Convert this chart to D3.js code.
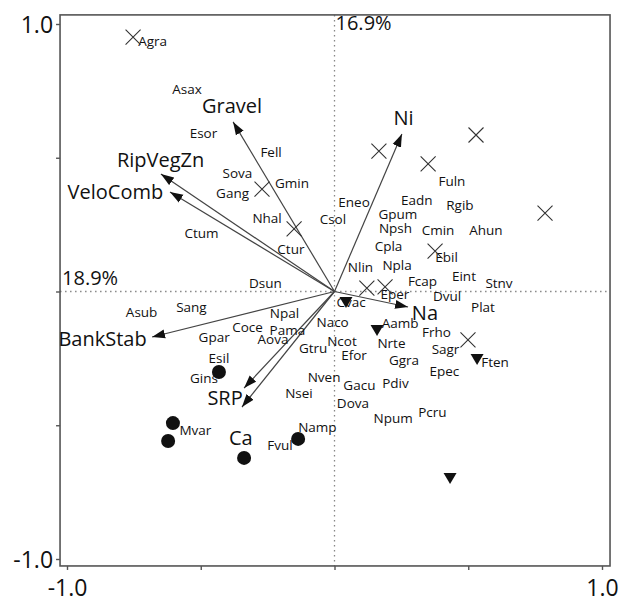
<!DOCTYPE html>
<html>
<head>
<meta charset="utf-8">
<script src="https://cdn.jsdelivr.net/npm/d3@7"></script>
<style>
  html, body { margin: 0; padding: 0; background: #fff; }
  svg { display: block; }
  text { font-family: "Open Sans", "DejaVu Sans", sans-serif; fill: #111; }
</style>
</head>
<body>
<svg id="chart" width="621" height="599"></svg>
<script>
// ---------- data ----------
const axisTicks = [-1, -0.5, 0, 0.5, 1];
const tickLabels = ["-1.0", "", "", "", "1.0"];
const axis1Label = "18.9%";
const axis2Label = "16.9%";

// environmental variables (arrow tips)
const envNames = ["Gravel", "RipVegZn", "VeloComb", "BankStab", "SRP", "Ca", "Ni", "Na"];
const envX = [-0.379, -0.649, -0.615, -0.682, -0.338, -0.346, 0.252, 0.275];
const envY = [0.634, 0.439, 0.372, -0.170, -0.361, -0.432, 0.589, -0.058];
const envLabelX = [-0.383, -0.650, -0.819, -0.867, -0.409, -0.350, 0.258, 0.338];
const envLabelY = [0.697, 0.492, 0.372, -0.174, -0.398, -0.544, 0.649, -0.077];

// species labels
const speciesNames = ["Agra","Asax","Esor","Fell","Sova","Gmin","Gang","Nhal","Ctum","Ctur","Dsun",
  "Fuln","Eneo","Eadn","Rgib","Csol","Gpum","Npsh","Cmin","Ahun","Cpla","Ebil","Nlin","Npla","Eint",
  "Stnv","Fcap","Eper","Dvul","Cvac","Plat","Naco","Aamb","Frho","Ncot","Nrte","Gtru","Sagr","Efor",
  "Ften","Ggra","Epec","Nven","Gacu","Pdiv","Nsei","Dova","Pcru","Npum","Namp","Fvul","Asub","Sang",
  "Npal","Coce","Pama","Gpar","Aova","Esil","Gins","Mvar"];
const speciesX = [-0.680,-0.551,-0.490,-0.237,-0.363,-0.159,-0.381,-0.252,-0.497,-0.163,-0.258,
  0.439,0.073,0.308,0.469,-0.006,0.237,0.228,0.387,0.566,0.202,0.419,0.097,0.234,0.484,
  0.615,0.329,0.226,0.421,0.062,0.555,-0.007,0.245,0.381,0.028,0.213,-0.080,0.415,0.073,
  0.600,0.260,0.411,-0.039,0.093,0.228,-0.133,0.069,0.366,0.219,-0.064,-0.204,-0.721,-0.535,
  -0.187,-0.325,-0.176,-0.450,-0.230,-0.432,-0.488,-0.520];
const speciesY = [0.936,0.757,0.593,0.521,0.443,0.406,0.368,0.275,0.219,0.159,0.032,
  0.413,0.335,0.342,0.323,0.271,0.290,0.237,0.230,0.230,0.170,0.129,0.092,0.099,0.058,
  0.032,0.039,-0.009,-0.017,-0.039,-0.058,-0.114,-0.118,-0.151,-0.185,-0.193,-0.211,-0.215,-0.237,
  -0.264,-0.256,-0.297,-0.320,-0.350,-0.342,-0.379,-0.417,-0.450,-0.473,-0.507,-0.574,-0.077,-0.058,
  -0.080,-0.133,-0.144,-0.170,-0.178,-0.249,-0.323,-0.518];

// sample markers
const crossX = [-0.753,-0.271,-0.151,0.166,0.350,0.529,0.787,0.376,0.121,0.189,0.499];
const crossY = [0.951,0.383,0.234,0.525,0.477,0.585,0.293,0.151,0.013,0.017,-0.181];
const circleX = [-0.432,-0.604,-0.622,-0.338,-0.136];
const circleY = [-0.301,-0.492,-0.559,-0.622,-0.551];
const triX = [0.043,0.159,0.533,0.432];
const triY = [-0.039,-0.144,-0.252,-0.697];

// ---------- drawing ----------
const svg = d3.select("#chart");
const x = d3.scaleLinear().domain([-1, 1]).range([67, 602]);
const y = d3.scaleLinear().domain([-1, 1]).range([559, 24]);
const frame = { x0: -1.026, x1: 1.03, y0: -1.026, y1: 1.034 };

// dotted zero lines
svg.append("line")
  .attr("x1", x(0)).attr("x2", x(0)).attr("y1", y(frame.y1)).attr("y2", y(frame.y0))
  .attr("stroke", "#888").attr("stroke-width", 1.3).attr("stroke-dasharray", "1.5,3.5");
svg.append("line")
  .attr("x1", x(frame.x0)).attr("x2", x(frame.x1)).attr("y1", y(0)).attr("y2", y(0))
  .attr("stroke", "#888").attr("stroke-width", 1.3).attr("stroke-dasharray", "1.5,3.5");

// frame
svg.append("rect")
  .attr("x", x(frame.x0)).attr("y", y(frame.y1))
  .attr("width", x(frame.x1) - x(frame.x0)).attr("height", y(frame.y0) - y(frame.y1))
  .attr("fill", "none").attr("stroke", "#555").attr("stroke-width", 1.6);

// axes
const fmt = (d, i) => tickLabels[i];
const gy = svg.append("g").attr("transform", `translate(${x(frame.x0)},0)`)
  .call(d3.axisLeft(y).tickValues(axisTicks).tickFormat(fmt).tickSize(4).tickPadding(3));
const gx = svg.append("g").attr("transform", `translate(0,${y(frame.y0)})`)
  .call(d3.axisBottom(x).tickValues(axisTicks).tickFormat(fmt).tickSize(4).tickPadding(10));
[gx, gy].forEach(g => {
  g.select(".domain").remove();
  g.selectAll(".tick line").attr("stroke", "#555").attr("stroke-width", 1.4);
  g.selectAll(".tick text").attr("font-size", 23).attr("fill", "#111")
    .attr("font-family", "'Open Sans', sans-serif");
});
gy.selectAll(".tick text").attr("dy", "0.36em");

// percentage labels
svg.append("text").attr("x", x(0) + 1).attr("y", y(frame.y1) + 8)
  .attr("dominant-baseline", "central").attr("font-size", 20).text(axis2Label);
svg.append("text").attr("x", x(frame.x0) + 2).attr("y", y(0) - 14)
  .attr("dominant-baseline", "central").attr("font-size", 20).text(axis1Label);

// arrow marker
svg.append("defs").append("marker")
  .attr("id", "head").attr("markerUnits", "userSpaceOnUse")
  .attr("viewBox", "0 -5 13 10").attr("refX", 13).attr("refY", 0)
  .attr("markerWidth", 13).attr("markerHeight", 10).attr("orient", "auto")
  .append("path").attr("d", "M0,-4.5L13,0L0,4.5Z").attr("fill", "#111");

svg.append("g").selectAll("line").data(envNames).join("line")
  .attr("x1", x(0)).attr("y1", y(0))
  .attr("x2", (d, i) => x(envX[i])).attr("y2", (d, i) => y(envY[i]))
  .attr("stroke", "#444").attr("stroke-width", 1.2)
  .attr("marker-end", "url(#head)");

// species labels
svg.append("g").selectAll("text").data(speciesNames).join("text")
  .attr("x", (d, i) => x(speciesX[i])).attr("y", (d, i) => y(speciesY[i]))
  .attr("text-anchor", "middle").attr("dominant-baseline", "central")
  .attr("font-size", 13.5).text(d => d);

// env labels
svg.append("g").selectAll("text").data(envNames).join("text")
  .attr("x", (d, i) => x(envLabelX[i])).attr("y", (d, i) => y(envLabelY[i]))
  .attr("text-anchor", "middle").attr("dominant-baseline", "central")
  .attr("font-size", 20).text(d => d);

// crosses
const cs = 7.5;
const cg = svg.append("g").attr("stroke", "#333").attr("stroke-width", 1.1);
crossX.forEach((cx, i) => {
  const px = x(cx), py = y(crossY[i]);
  cg.append("path").attr("d", `M${px - cs},${py - cs}L${px + cs},${py + cs}M${px - cs},${py + cs}L${px + cs},${py - cs}`);
});

// circles
svg.append("g").selectAll("circle").data(circleX).join("circle")
  .attr("cx", d => x(d)).attr("cy", (d, i) => y(circleY[i])).attr("r", 7)
  .attr("fill", "#111");

// triangles (pointing down)
svg.append("g").selectAll("path").data(triX).join("path")
  .attr("d", (d, i) => {
    const px = x(d), py = y(triY[i]);
    return `M${px - 6.5},${py - 5}L${px + 6.5},${py - 5}L${px},${py + 6}Z`;
  })
  .attr("fill", "#111");
</script>
</body>
</html>
